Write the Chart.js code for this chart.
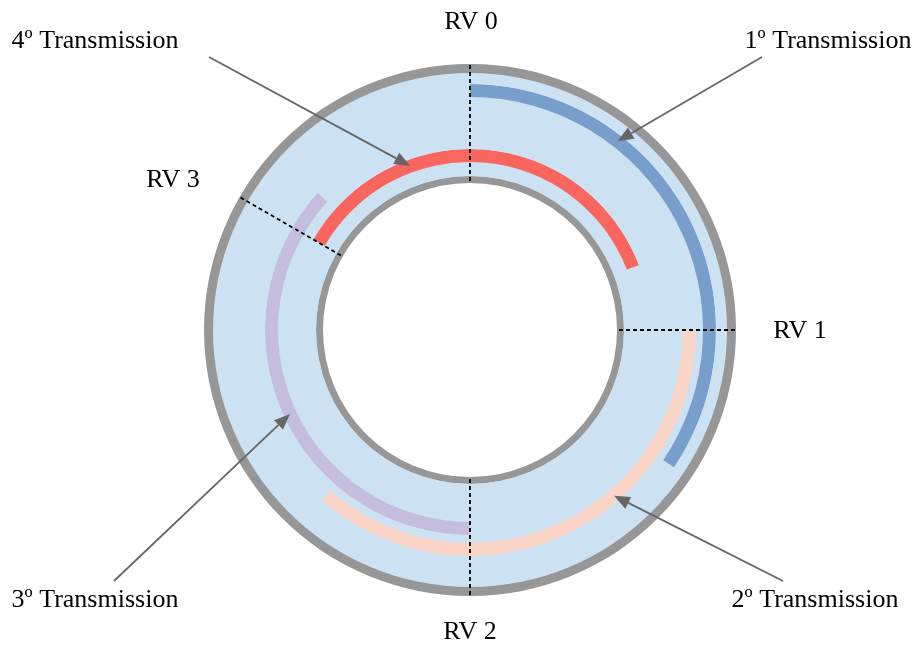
<!DOCTYPE html>
<html>
<head>
<meta charset="utf-8">
<script src="https://cdn.jsdelivr.net/npm/chart.js"></script>
<style>
  html, body { margin: 0; padding: 0; background: #fff; }
  #wrap { width: 915px; height: 646px; position: relative; }
</style>
</head>
<body>
<div id="wrap"><canvas id="bufferChart"></canvas></div>
<script>
// redundancy versions (angle on the circular buffer, degrees from top, clockwise)
const rvLabels = ['RV 0', 'RV 1', 'RV 2', 'RV 3'];
const rvAngles = [0, 90, 180, 300];

// transmissions: where each one starts on the buffer and how far it reads
const txLabels = ['1º Transmission', '2º Transmission', '3º Transmission', '4º Transmission'];
const txStart = [0, 90, 180, 300];
const txLength = [124, 131, 132, 129];
const txColors = ['#789fcb', '#fad5c7', '#c5bddd', '#f8665f'];
const arrowAngles = [38, 139, 245, 340];

const ringGray = '#979797';
const bgBlue = '#cce1f1';

// ring thickness weights, outer -> inner
const gapWeights = [7, 8, 11, 14];

function ring(weight, color) {
    return { data: [1], backgroundColor: [color], weight: weight, borderWidth: 0 };
}

const datasets = [];
datasets.push(ring(9, ringGray));
datasets.push(ring(11, bgBlue));
txLabels.forEach((lab, i) => {
    datasets.push({
        label: lab,
        data: [txLength[i], 360 - txLength[i]],
        backgroundColor: [txColors[i], bgBlue],
        rotation: txStart[i],
        weight: 13,
        borderWidth: 0
    });
    datasets.push(ring(gapWeights[i], bgBlue));
});
datasets.push(ring(7, ringGray));

// layout of the texts and arrow tails
const rvTextPos = [[471, 22], [800, 331], [470, 632], [173, 180]];
const txTextPos = [[828, 41], [815, 600], [95, 600], [95, 41]];
const arrowTail = [[762, 57], [783, 581], [114, 581], [209, 57]];

const overlay = {
    id: 'overlay',
    beforeDatasetsDraw(chart) {
        // plate behind the rings so no seams show between them
        const ctx = chart.ctx;
        const outer = chart.getDatasetMeta(0).data[0];
        const inner = chart.getDatasetMeta(datasets.length - 1).data[0];
        ctx.save();
        ctx.fillStyle = bgBlue;
        ctx.beginPath();
        ctx.arc(outer.x, outer.y, outer.innerRadius + 1, 0, Math.PI * 2);
        ctx.arc(outer.x, outer.y, inner.outerRadius - 1, 0, Math.PI * 2, true);
        ctx.fill();
        ctx.restore();
    },
    afterDatasetsDraw(chart) {
        const ctx = chart.ctx;
        const outer = chart.getDatasetMeta(0).data[0];
        const inner = chart.getDatasetMeta(datasets.length - 1).data[0];
        const cx = outer.x, cy = outer.y;
        const pt = (deg, r) => [cx + r * Math.sin(deg * Math.PI / 180), cy - r * Math.cos(deg * Math.PI / 180)];

        ctx.save();
        // dashed RV markers
        ctx.strokeStyle = '#000';
        ctx.lineWidth = 1.8;
        ctx.setLineDash([4, 3]);
        rvAngles.forEach(a => {
            const p0 = pt(a, inner.innerRadius + 2);
            const p1 = pt(a, outer.outerRadius - 1);
            ctx.beginPath();
            ctx.moveTo(p0[0], p0[1]);
            ctx.lineTo(p1[0], p1[1]);
            ctx.stroke();
        });
        ctx.setLineDash([]);

        // arrows to the transmissions
        ctx.strokeStyle = '#666';
        ctx.fillStyle = '#666';
        ctx.lineWidth = 1.8;
        arrowAngles.forEach((a, i) => {
            const arc = chart.getDatasetMeta(2 + 2 * i).data[0];
            const tip = pt(a, (arc.innerRadius + arc.outerRadius) / 2);
            const tail = arrowTail[i];
            const ang = Math.atan2(tip[1] - tail[1], tip[0] - tail[0]);
            const head = 16, half = 6.5;
            const bx = tip[0] - head * Math.cos(ang), by = tip[1] - head * Math.sin(ang);
            ctx.beginPath();
            ctx.moveTo(tail[0], tail[1]);
            ctx.lineTo(bx, by);
            ctx.stroke();
            ctx.beginPath();
            ctx.moveTo(tip[0], tip[1]);
            ctx.lineTo(bx + half * Math.sin(ang), by - half * Math.cos(ang));
            ctx.lineTo(bx - half * Math.sin(ang), by + half * Math.cos(ang));
            ctx.closePath();
            ctx.fill();
        });

        // texts
        ctx.fillStyle = '#000';
        ctx.font = '26px "Liberation Serif", "Times New Roman", serif';
        ctx.textAlign = 'center';
        ctx.textBaseline = 'middle';
        rvLabels.forEach((t, i) => ctx.fillText(t, rvTextPos[i][0], rvTextPos[i][1]));
        txLabels.forEach((t, i) => ctx.fillText(t, txTextPos[i][0], txTextPos[i][1]));
        ctx.restore();
    }
};

new Chart(document.getElementById('bufferChart').getContext('2d'), {
    type: 'doughnut',
    data: {
        labels: ['read', 'rest'],
        datasets: datasets
    },
    options: {
        responsive: true,
        maintainAspectRatio: false,
        animation: false,
        events: [],
        cutout: 147,
        layout: { padding: { left: 204, right: 179, top: 64, bottom: 50 } },
        elements: { arc: { borderWidth: 0 } },
        plugins: {
            legend: { display: false },
            tooltip: { enabled: false }
        }
    },
    plugins: [overlay]
});
</script>
</body>
</html>
